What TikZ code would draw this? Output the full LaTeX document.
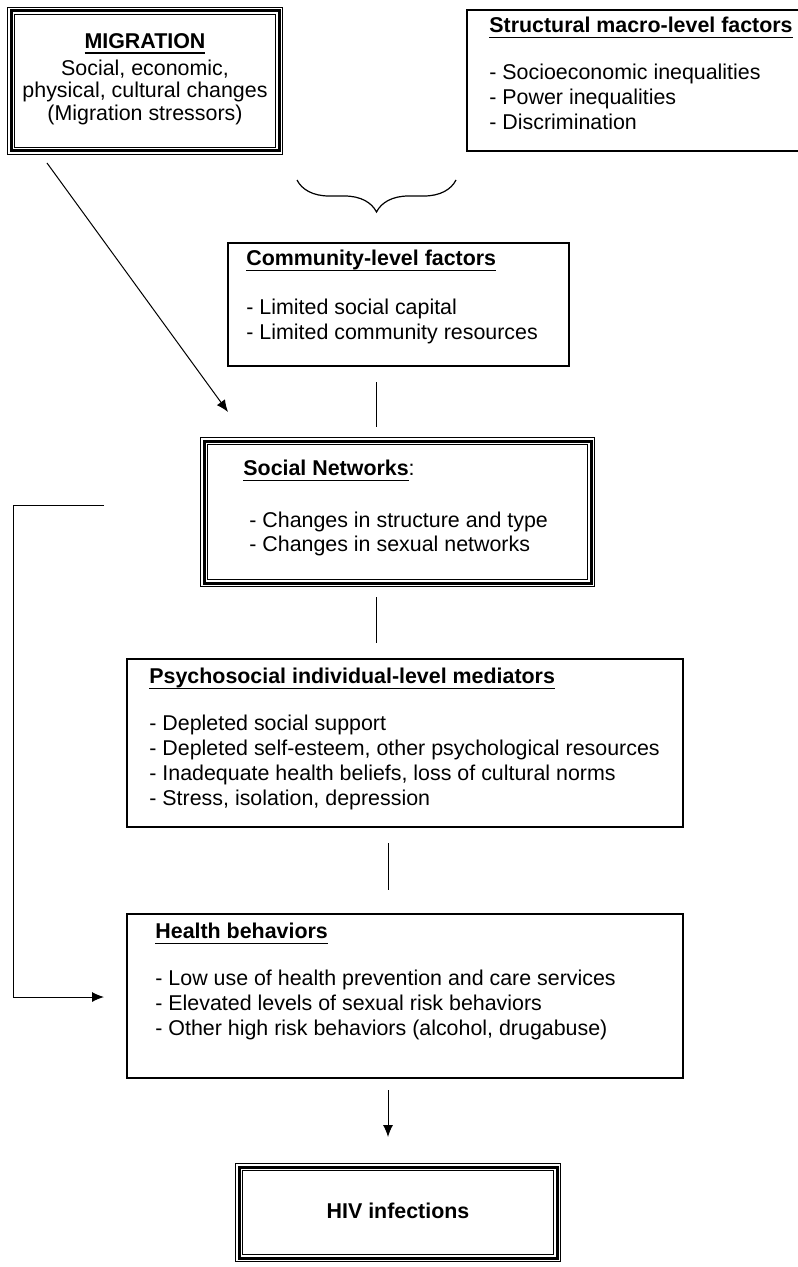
\documentclass[tikz,border=0pt]{standalone}
\usepackage{fontspec}
\setmainfont{Liberation Sans}
\usetikzlibrary{arrows.meta,decorations.pathreplacing}

% heading underline, a little heavier than \underline
\newsavebox\ulbox
\newcommand\headul[1]{\sbox\ulbox{#1}\rlap{\rule[-2.6pt]{\wd\ulbox}{0.8pt}}\usebox\ulbox}

\tikzset{
	frame/.style={draw, line width=0.6pt, inner sep=0pt},
	tripleframe/.style={draw, line width=1.5pt, inner sep=0pt,
		preaction={draw, line width=3.9pt},
		preaction={draw=white, line width=2.9pt}},
	boxtext/.style={inner sep=0pt, anchor=north west, align=left,
		font=\fontsize{10.7}{12.4}\selectfont},
	link/.style={line width=0.5pt},
	arrow/.style={line width=0.5pt, -{Latex[length=6pt,width=5pt]}},
}

\begin{document}
\begin{tikzpicture}[x=0.5pt, y=-0.5pt]
	\useasboundingbox (0, 0) rectangle (797, 1267);

	% frames
	\node [tripleframe, minimum width=134pt, minimum height=70pt] (migration) at (145, 81) {};
	\node [frame, minimum width=169pt, minimum height=70.5pt] (structural) at (636, 80.5) {};
	\node [frame, minimum width=170.5pt, minimum height=61.5pt] (community) at (398.5, 304.5) {};
	\node [tripleframe, minimum width=193.5pt, minimum height=71pt] (networks) at (397.5, 512) {};
	\node [frame, minimum width=278pt, minimum height=84pt] (mediators) at (405, 743) {};
	\node [frame, minimum width=278pt, minimum height=82pt] (behaviors) at (405, 996) {};
	\node [tripleframe, minimum width=159pt, minimum height=45.5pt] (hiv) at (398, 1212.5) {};

	% texts
	\node [inner sep=0pt, anchor=north, align=center, font=\fontsize{10.7}{11.3}\selectfont] (migrationtxt) at (145, 33)
		{\headul{\textbf{MIGRATION}}\\[2.2pt] Social, economic,\\ physical, cultural changes\\ (Migration stressors)};
	\node [boxtext] (structuraltxt) at (489, 17)
		{\headul{\textbf{Structural macro-level factors}}\\[11pt]
		- Socioeconomic inequalities\\ - Power inequalities\\ - Discrimination};
	\node [boxtext] (communitytxt) at (246, 250)
		{\headul{\textbf{Community-level factors}}\\[12pt]
		- Limited social capital\\ - Limited community resources};
	\node [boxtext] (networkstxt) at (243, 460)
		{\headul{\textbf{Social Networks}}:\\[13.2pt]
		\ - Changes in structure and type\\ \ - Changes in sexual networks};
	\node [boxtext] (mediatorstxt) at (149, 668)
		{\headul{\textbf{Psychosocial individual-level mediators}}\\[11pt]
		- Depleted social support\\
		- Depleted self-esteem, other psychological resources\\
		- Inadequate health beliefs, loss of cultural norms\\
		- Stress, isolation, depression};
	\node [boxtext] (behaviorstxt) at (155, 923)
		{\headul{\textbf{Health behaviors}}\\[11pt]
		- Low use of health prevention and care services\\
		- Elevated levels of sexual risk behaviors\\
		- Other high risk behaviors (alcohol, drugabuse)};
	\node [font=\fontsize{10.7}{12.4}\selectfont\bfseries] (hivtxt) at (398, 1211) {HIV infections};

	% connector ends
	\coordinate (m1) at (47, 163);
	\coordinate (m2) at (228, 412);
	\coordinate (c1) at (376, 382);
	\coordinate (c2) at (376, 427);
	\coordinate (n1) at (376, 597);
	\coordinate (n2) at (376, 643);
	\coordinate (p1) at (388, 843);
	\coordinate (p2) at (388, 890);
	\coordinate (h1) at (388, 1090);
	\coordinate (h2) at (388, 1137);
	\coordinate (l1) at (104, 505);
	\coordinate (l2) at (104, 997);

	\draw [decorate, decoration={brace, mirror, amplitude=16pt}, line width=0.6pt] (297, 180) -- (456, 180);
	\draw [arrow] (m1) -- (m2);
	\draw [link] (c1) -- (c2);
	\draw [link] (n1) -- (n2);
	\draw [link] (p1) -- (p2);
	\draw [arrow] (h1) -- (h2);
	\draw [arrow] (l1) -- (13, 505) -- (13, 997) -- (l2);
\end{tikzpicture}
\end{document}
